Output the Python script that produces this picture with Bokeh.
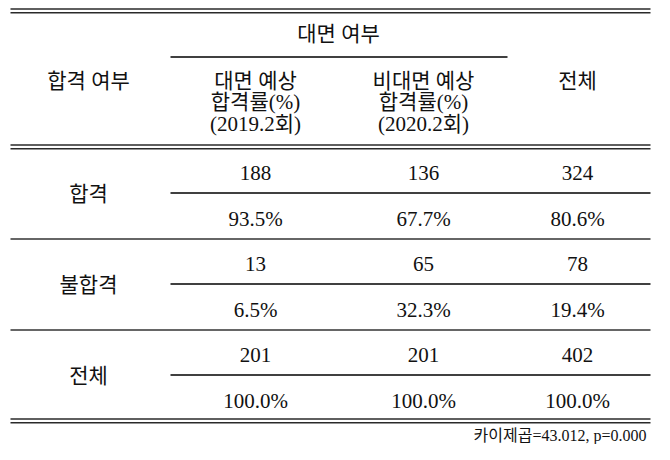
from bokeh.plotting import figure
from bokeh.models import Range1d, ColumnDataSource
from bokeh.core.properties import value
from bokeh.embed import file_html
from bokeh.resources import INLINE

# ---- data ----
group_header = "대면 여부"
row_header = "합격 여부"
col_labels = [
    ["대면 예상", "합격률(%)", "(2019.2회)"],
    ["비대면 예상", "합격률(%)", "(2020.2회)"],
    ["전체"],
]
row_labels = ["합격", "불합격", "전체"]
counts = [
    [188, 136, 324],
    [13, 65, 78],
    [201, 201, 402],
]
percents = [
    [93.5, 67.7, 80.6],
    [6.5, 32.3, 19.4],
    [100.0, 100.0, 100.0],
]
note = "카이제곱=43.012,  p=0.000"

# ---- layout ----
W, H = 654, 444
FONT = value("Liberation Serif, Noto Sans CJK KR")
INK = "#111111"

p = figure(width=W, height=H, output_backend="svg", toolbar_location=None,
           x_range=Range1d(0, W), y_range=Range1d(H, 0),
           min_border=0)
p.axis.visible = False
p.grid.visible = False
p.outline_line_color = None
p.background_fill_color = "white"
p.border_fill_color = "white"

left, right = 10, 650
sub_left = 170
label_x = 88
col_x = [255, 423, 577]

def txt(x, y, s, size="20px", align="center"):
    src = ColumnDataSource(dict(x=x, y=y, t=s))
    p.text("x", "y", "t", source=src, text_font=FONT, text_font_size=size,
           text_align=align, text_baseline="middle", text_color=INK)

def hline(x0, x1, y, w=1.4, c="#1a1a1a"):
    p.segment(x0=[x0], y0=[y], x1=[x1], y1=[y], line_width=w, line_color=c)

# top double rule
hline(left, right, 8.5, 1.6, "#2a2a2a")
hline(left, right, 12.2, 1.6, "#2a2a2a")

# header
txt([338], [33], [group_header], size="21px")
hline(sub_left, 507, 56.5, 1.4, "#000000")
txt([label_x], [80], [row_header], size="21px")
hx, hy, ht = [], [], []
for ci, lines in enumerate(col_labels):
    for li, line in enumerate(lines):
        hx.append(col_x[ci]); hy.append(80 + 21.5 * li); ht.append(line)
txt(hx, hy, ht, size="21px")

# header bottom double rule
hline(left, right, 144.5, 1.6, "#2a2a2a")
hline(left, right, 148.2, 1.6, "#2a2a2a")

# body
cx, cy, ct = [], [], []
for ri in range(len(row_labels)):
    base = 172 + 91 * ri
    for ci in range(len(col_x)):
        cx.append(col_x[ci]); cy.append(base); ct.append(str(counts[ri][ci]))
        cx.append(col_x[ci]); cy.append(base + 46); ct.append(f"{percents[ri][ci]:.1f}%")
    hline(sub_left, right, base + 20.5, 1.4, "#000000")
    if ri < len(row_labels) - 1:
        hline(left, right, base + 66.5, 1.6, "#333333")
txt(cx, cy, ct, size="21px")
txt([label_x] * len(row_labels), [193 + 91 * i for i in range(len(row_labels))], row_labels, size="21px")

# bottom double rule
hline(left, right, 418.5, 1.6, "#2a2a2a")
hline(left, right, 422.2, 1.6, "#2a2a2a")

txt([650], [435], [note], size="16px", align="right")

open("out.html", "w").write(file_html(p, INLINE))
